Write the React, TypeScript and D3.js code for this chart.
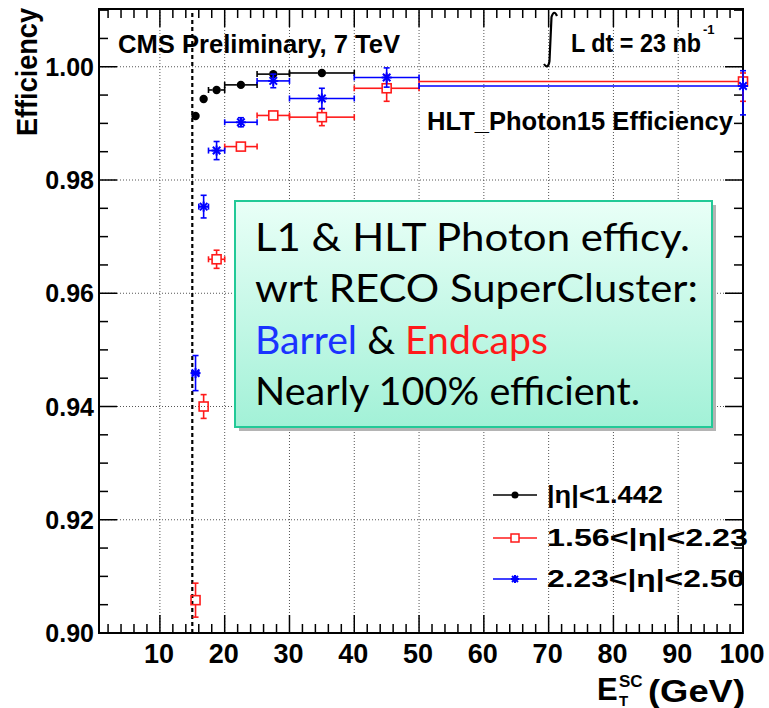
import React from 'react';
import * as d3 from 'd3';

const W = 769;
const H = 708;

// Axis ticks
const xTickValues = [10, 20, 30, 40, 50, 60, 70, 80, 90, 100];
const yTickValues = [0.9, 0.92, 0.94, 0.96, 0.98, 1.0];

// |eta| < 1.442
const blackX = [15.5, 16.75, 18.75, 22.5, 27.5, 35];
const blackXErr = [0.5, 0.75, 1.25, 2.5, 2.5, 5];
const blackY = [0.9913, 0.9943, 0.9959, 0.9968, 0.9987, 0.9989];
const blackYErr = [0.0003, 0.0003, 0.0002, 0.0002, 0.0002, 0.0002];

// shared bins for endcap series
const binX = [15.5, 16.75, 18.75, 22.5, 27.5, 35, 45, 100];
const binXErr = [0.5, 0.75, 1.25, 2.5, 2.5, 5, 5, 50];

// 1.56 < |eta| < 2.23
const redY = [0.9058, 0.94, 0.966, 0.9859, 0.9914, 0.9911, 0.9962, 0.9974];
const redErrUp = [0.003, 0.0021, 0.0016, 0.0005, 0.0007, 0.0015, 0.0023, 0.0015];
const redErrDn = [0.003, 0.0021, 0.0016, 0.0005, 0.0007, 0.0015, 0.0023, 0.0035];

// 2.23 < |eta| < 2.50
const blueY = [0.9459, 0.9753, 0.9852, 0.9902, 0.9975, 0.9944, 0.9981, 0.9966];
const blueErrUp = [0.0031, 0.002, 0.0016, 0.0008, 0.0012, 0.0018, 0.0017, 0.0027];
const blueErrDn = [0.0031, 0.002, 0.0016, 0.0008, 0.0012, 0.0018, 0.0017, 0.0051];

const legendLabels = ['|η|<1.442', '1.56<|η|<2.23', '2.23<|η|<2.50'];
const legendColors = ['#000000', '#ff1a1a', '#0000ff'];

const X0 = 99, X1 = 743, Y0 = 633, Y1 = 9;
const x = d3.scaleLinear().domain([0.6, 100]).range([X0, X1]);
const y = d3.scaleLinear().domain([0.9, 1.0102]).range([Y0, Y1]);

const FONT = 'Liberation Sans, Arial, Helvetica, sans-serif';

type Pt = { cx: number; xe: number; cy: number; up: number; dn: number };

function ErrorBars({ pts, color, gap, width = 1.6 }: { pts: Pt[]; color: string; gap: number; width?: number }) {
  const cap = 3;
  return (
    <g stroke={color} strokeWidth={width} fill="none">
      {pts.map((p, i) => {
        const px = x(p.cx);
        const py = y(p.cy);
        const xl = x(Math.max(0.6, p.cx - p.xe));
        const xr = x(Math.min(100, p.cx + p.xe));
        const yt = y(p.cy + p.up);
        const yb = y(p.cy - p.dn);
        const segs: any[] = [];
        if (px - xl > gap + 1) {
          segs.push(<line key="l" x1={xl} y1={py} x2={px - gap} y2={py} />);
          segs.push(<line key="lc" x1={xl} y1={py - cap} x2={xl} y2={py + cap} />);
        }
        if (xr - px > gap + 1) {
          segs.push(<line key="r" x1={px + gap} y1={py} x2={xr} y2={py} />);
          if (p.cx + p.xe <= 100) segs.push(<line key="rc" x1={xr} y1={py - cap} x2={xr} y2={py + cap} />);
        }
        if (py - yt > gap + 1) {
          segs.push(<line key="t" x1={px} y1={yt} x2={px} y2={py - gap} />);
          segs.push(<line key="tc" x1={px - cap} y1={yt} x2={px + cap} y2={yt} />);
        }
        if (yb - py > gap + 1) {
          segs.push(<line key="b" x1={px} y1={py + gap} x2={px} y2={yb} />);
          segs.push(<line key="bc" x1={px - cap} y1={yb} x2={px + cap} y2={yb} />);
        }
        return <g key={i}>{segs}</g>;
      })}
    </g>
  );
}

function Star({ cx, cy, color, s = 5 }: { cx: number; cy: number; color: string; s?: number }) {
  const d = s * 0.75;
  return (
    <g stroke={color} strokeWidth={2}>
      <line x1={cx - s} y1={cy} x2={cx + s} y2={cy} />
      <line x1={cx} y1={cy - s} x2={cx} y2={cy + s} />
      <line x1={cx - d} y1={cy - d} x2={cx + d} y2={cy + d} />
      <line x1={cx - d} y1={cy + d} x2={cx + d} y2={cy - d} />
    </g>
  );
}

export default function App() {
  const blackPts: Pt[] = blackX.map((v, i) => ({ cx: v, xe: blackXErr[i], cy: blackY[i], up: blackYErr[i], dn: blackYErr[i] }));
  const redPts: Pt[] = binX.map((v, i) => ({ cx: v, xe: binXErr[i], cy: redY[i], up: redErrUp[i], dn: redErrDn[i] }));
  const bluePts: Pt[] = binX.map((v, i) => ({ cx: v, xe: binXErr[i], cy: blueY[i], up: blueErrUp[i], dn: blueErrDn[i] }));

  const minorX = d3.range(2, 100, 2).filter((v) => v % 10 !== 0);
  const minorY = d3.range(0, 23).map((k) => 0.9 + k * 0.005).filter((v, k) => v <= 1.0102 && k % 4 !== 0);

  return (
    <svg width={W} height={H} style={{ position: 'absolute', left: 0, top: 0, background: '#fff' }}>
      <defs>
        <linearGradient id="boxgrad" x1="0" y1="0" x2="0" y2="1">
          <stop offset="0%" stopColor="#e9fff7" />
          <stop offset="100%" stopColor="#a2f1d7" />
        </linearGradient>
      </defs>
      <rect x={0} y={0} width={W} height={H} fill="#fff" />

      {/* grid */}
      <g stroke="#555" strokeWidth={1} strokeDasharray="1,2">
        {xTickValues.filter((v) => v < 100).map((v) => (
          <line key={'gx' + v} x1={x(v)} y1={Y1} x2={x(v)} y2={Y0} />
        ))}
        {yTickValues.filter((v) => v > 0.9).map((v) => (
          <line key={'gy' + v} x1={X0} y1={y(v)} x2={X1} y2={y(v)} />
        ))}
      </g>

      {/* ticks */}
      <g stroke="#000" strokeWidth={1.5}>
        {minorX.map((v) => (
          <g key={'mx' + v}>
            <line x1={x(v)} y1={Y0} x2={x(v)} y2={Y0 - 9} />
            <line x1={x(v)} y1={Y1} x2={x(v)} y2={Y1 + 9} />
          </g>
        ))}
        {xTickValues.map((v) => (
          <g key={'Mx' + v}>
            <line x1={x(v)} y1={Y0} x2={x(v)} y2={Y0 - 18} />
            <line x1={x(v)} y1={Y1} x2={x(v)} y2={Y1 + 18} />
          </g>
        ))}
        {minorY.map((v) => (
          <g key={'my' + v}>
            <line x1={X0} y1={y(v)} x2={X0 + 9} y2={y(v)} />
            <line x1={X1} y1={y(v)} x2={X1 - 9} y2={y(v)} />
          </g>
        ))}
        {yTickValues.map((v) => (
          <g key={'My' + v}>
            <line x1={X0} y1={y(v)} x2={X0 + 18} y2={y(v)} />
            <line x1={X1} y1={y(v)} x2={X1 - 18} y2={y(v)} />
          </g>
        ))}
      </g>

      {/* threshold line */}
      <line x1={x(15)} y1={Y0} x2={x(15)} y2={Y1} stroke="#000" strokeWidth={2.2} strokeDasharray="4,3" />

      {/* frame */}
      <rect x={X0} y={Y1} width={X1 - X0} height={Y0 - Y1} fill="none" stroke="#000" strokeWidth={2} />

      {/* tick labels */}
      <g fontFamily={FONT} fontWeight="bold" fill="#000">
        {xTickValues.map((v) => (
          <text key={'tx' + v} x={x(v) - 1} y={663} fontSize={27} textAnchor="middle">{v}</text>
        ))}
        {yTickValues.map((v) => (
          <text key={'ty' + v} x={94} y={y(v) + 9} fontSize={25} textAnchor="end">{v.toFixed(2)}</text>
        ))}
      </g>

      {/* axis titles */}
      <text fontFamily={FONT} fontWeight="bold" fontSize={29} transform="translate(37,136) rotate(-90)" textLength={128} lengthAdjust="spacingAndGlyphs">Efficiency</text>
      <g fontFamily={FONT} fontWeight="bold" fill="#000">
        <text x={597} y={700} fontSize={31}>E</text>
        <text x={619} y={706} fontSize={15}>T</text>
        <text x={619} y={687} fontSize={17}>SC</text>
        <text x={648} y={702} fontSize={31} textLength={97} lengthAdjust="spacingAndGlyphs">(GeV)</text>
      </g>

      {/* data */}
      <ErrorBars pts={blackPts} color="#000" gap={4} />
      {blackPts.map((p, i) => (
        <circle key={'b' + i} cx={x(p.cx)} cy={y(p.cy)} r={4.2} fill="#000" />
      ))}
      <ErrorBars pts={redPts} color="#ff1a1a" gap={4.5} />
      {redPts.map((p, i) => (
        <rect key={'r' + i} x={x(p.cx) - 4.5} y={y(p.cy) - 4.5} width={9} height={9} fill="none" stroke="#ff1a1a" strokeWidth={1.6} />
      ))}
      <ErrorBars pts={bluePts} color="#0000ff" gap={0} />
      {bluePts.map((p, i) => (
        <Star key={'s' + i} cx={x(p.cx)} cy={y(p.cy)} color="#0000ff" />
      ))}

      {/* header texts */}
      <g fontFamily={FONT} fontWeight="bold" fill="#000">
        <text x={118} y={53} fontSize={25} textLength={282} lengthAdjust="spacingAndGlyphs">CMS Preliminary, 7 TeV</text>
        <path d="M 557 16 Q 554 9 551.5 17 L 549.5 61 Q 548 70 544 64" fill="none" stroke="#000" strokeWidth={2.2} />
        <text x={571} y={52} fontSize={25}>
          <tspan textLength={130} lengthAdjust="spacingAndGlyphs">L dt = 23 nb</tspan>
          <tspan dx={2} dy={-18} fontSize={13}>-1</tspan>
        </text>
        <text x={427} y={130} fontSize={25} textLength={306} lengthAdjust="spacingAndGlyphs">HLT_Photon15 Efficiency</text>
      </g>

      {/* legend */}
      {legendLabels.map((lab, i) => {
        const ly = [495, 538, 579][i];
        const col = legendColors[i];
        const tl = [116, 201, 198][i];
        return (
          <g key={'lg' + i}>
            <line x1={493} y1={ly} x2={537} y2={ly} stroke={col} strokeWidth={1.6} />
            {i === 0 && <circle cx={515} cy={ly} r={3.5} fill="#000" />}
            {i === 1 && <rect x={511} y={ly - 4} width={8} height={8} fill="#fff" stroke={col} strokeWidth={1.5} />}
            {i === 2 && <Star cx={515} cy={ly} color={col} s={4} />}
            <text x={547} y={ly + 8} fontFamily={FONT} fontWeight="bold" fontSize={23} textLength={tl} lengthAdjust="spacingAndGlyphs">{lab}</text>
          </g>
        );
      })}

      {/* annotation box */}
      <rect x={239} y={205} width={477} height={226} fill="#b4b4b4" />
      <rect x={235} y={201} width={477} height={226} fill="url(#boxgrad)" stroke="#22c997" strokeWidth={2} />
      <g fontFamily="Lato, 'Open Sans', sans-serif" fontSize={38} fill="#000">
        <text x={255} y={251} textLength={435} lengthAdjust="spacingAndGlyphs">L1 &amp; HLT Photon efficy.</text>
        <text x={255} y={302} textLength={443} lengthAdjust="spacingAndGlyphs">wrt RECO SuperCluster:</text>
        <text x={255} y={354} textLength={293} lengthAdjust="spacingAndGlyphs">
          <tspan fill="#1a33ff">Barrel</tspan>
          <tspan fill="#000"> &amp; </tspan>
          <tspan fill="#ff1a1a">Endcaps</tspan>
        </text>
        <text x={255} y={405} textLength={385} lengthAdjust="spacingAndGlyphs">Nearly 100% efficient.</text>
      </g>
    </svg>
  );
}
